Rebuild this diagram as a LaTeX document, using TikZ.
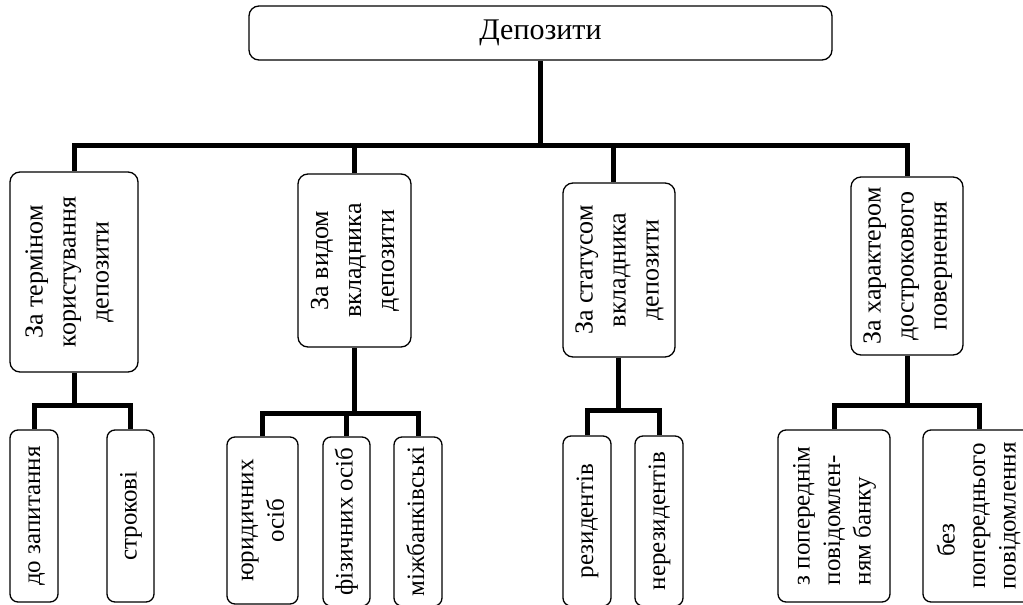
\documentclass[tikz,border=0pt]{standalone}
\usepackage{fontspec}
\setmainfont{Liberation Serif}
\usepackage{graphicx}
\newcommand{\vtext}[2][c]{\rotatebox{90}{\begin{tabular}{@{}#1@{}}#2\end{tabular}}}
\begin{document}
\begin{tikzpicture}[x=1pt,y=-1pt,
  every node/.style={font=\rmfamily\fontsize{26}{33}\selectfont},
  small/.style={font=\rmfamily\fontsize{25}{30.5}\selectfont},
  bx/.style={draw, line width=1.3pt, rounded corners=10pt, inner sep=0pt, fill=white},
  sbx/.style={small, draw, line width=1.3pt, rounded corners=8pt, inner sep=0pt, fill=white},
  conn/.style={line width=5pt, line join=miter}]
\useasboundingbox (0,0) rectangle (1023,605);
\clip (0,0) rectangle (1023,605);
% root
\node[bx, minimum width=583pt, minimum height=54pt, font=\rmfamily\fontsize{30}{36}\selectfont] (root) at (540.5,33) {Депозити};
% level 1
\node[bx, minimum width=128pt, minimum height=200pt] (b1) at (74,272) {\vtext{За терміном\\користування\\депозити}\hspace*{10pt}};
\node[bx, minimum width=113pt, minimum height=173pt] (b2) at (354.5,260.5) {\vtext{За видом\\вкладника\\депозити}};
\node[bx, minimum width=112pt, minimum height=174pt] (b3) at (619,270) {\vtext{За статусом\\вкладника\\депозити}};
\node[bx, minimum width=112pt, minimum height=178pt] (b4) at (907,266) {\vtext{За характером\\дострокового\\повернення}};
% level 2
\node[sbx, minimum width=48pt, minimum height=172pt] (c11) at (34,516) {\vtext{до запитання}};
\node[sbx, minimum width=47pt, minimum height=172pt] (c12) at (130.5,516) {\vtext{строкові}};
\node[sbx, minimum width=71pt, minimum height=167pt] (c21) at (262.5,520.5) {\vtext{юридичних\\осіб}};
\node[sbx, minimum width=47pt, minimum height=169pt] (c22) at (346.5,521.5) {\vtext{фізичних осіб}};
\node[sbx, minimum width=48pt, minimum height=169pt] (c23) at (418,521.5) {\vtext{міжбанківські}};
\node[sbx, minimum width=48pt, minimum height=170pt] (c31) at (587,521) {\vtext{резидентів}};
\node[sbx, minimum width=48pt, minimum height=170pt] (c32) at (659,521) {\vtext{нерезидентів}};
\node[sbx, minimum width=112pt, minimum height=172pt] (c41) at (834,516) {\vtext[l]{з попереднім\\повідомлен-\\ням банку}};
\node[sbx, minimum width=112pt, minimum height=172pt] (c42) at (979,516) {\vtext{без\hspace*{48pt}\\попереднього\\повідомлення}};
% connectors
\coordinate (bus) at (540.5,145);
\draw[conn] (root.south) -- (bus);
\draw[conn] (b1.north) |- (bus) -| (b4.north);
\draw[conn] (bus -| b2.north) -- (b2.north);
\draw[conn] (bus -| 613,0) -- ([xshift=-6pt]b3.north);
\coordinate (g1) at (74,405);
\draw[conn] (b1.south) -- (g1);
\draw[conn] (c11.north) |- (g1) -| (c12.north);
\coordinate (g2) at (354.5,413);
\draw[conn] (b2.south) -- (g2);
\draw[conn] (c21.north) |- (g2) -| (c23.north);
\draw[conn] (g2 -| c22.north) -- (c22.north);
\coordinate (g3) at (618,410);
\draw[conn] ([xshift=-1pt]b3.south) -- (g3);
\draw[conn] (c31.north) |- (g3) -| (c32.north);
\coordinate (g4) at (907,405);
\draw[conn] (b4.south) -- (g4);
\draw[conn] (c41.north) |- (g4) -| (c42.north);
\end{tikzpicture}
\end{document}
